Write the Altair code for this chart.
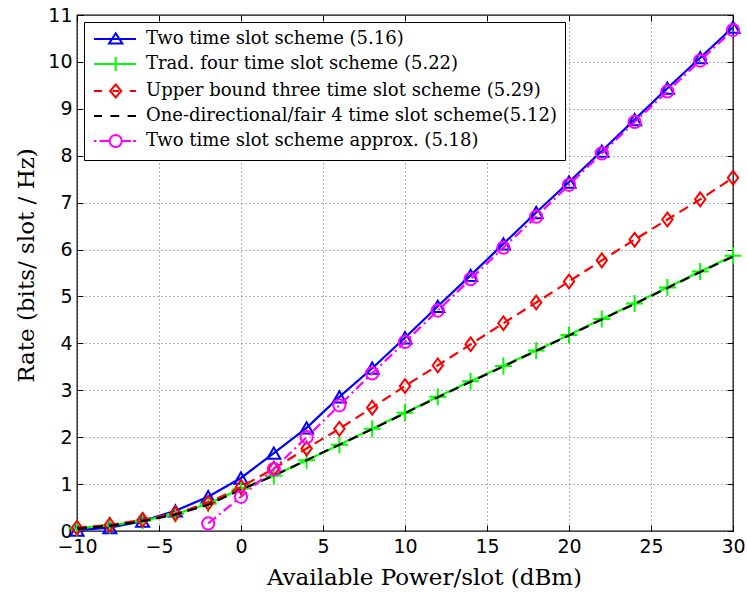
import math
import altair as alt
import pandas as pd

# ---------------- data ----------------
power = [-10, -8, -6, -4, -2, 0, 2, 4, 6, 8, 10, 12, 14, 16, 18, 20, 22, 24, 26, 28, 30]
two_slot = [0.02, 0.07, 0.21, 0.43, 0.73, 1.13, 1.66, 2.20, 2.86, 3.47, 4.12, 4.79,
            5.45, 6.12, 6.79, 7.44, 8.10, 8.77, 9.44, 10.09, 10.74]
trad_four = [0.06, 0.12, 0.22, 0.36, 0.58, 0.90, 1.18, 1.51, 1.84, 2.18, 2.52, 2.86,
             3.19, 3.52, 3.85, 4.18, 4.52, 4.85, 5.19, 5.53, 5.87]
upper_three = [0.07, 0.13, 0.24, 0.37, 0.60, 0.94, 1.33, 1.76, 2.18, 2.63, 3.09, 3.53,
               3.98, 4.43, 4.87, 5.32, 5.77, 6.21, 6.64, 7.07, 7.53]
one_dir = [0.05, 0.11, 0.21, 0.35, 0.56, 0.88, 1.18, 1.51, 1.84, 2.17, 2.51, 2.85,
           3.18, 3.51, 3.84, 4.17, 4.51, 4.84, 5.18, 5.52, 5.85]
approx_power = [-2, 0, 2, 4, 6, 8, 10, 12, 14, 16, 18, 20, 22, 24, 26, 28, 30]
approx = [0.16, 0.73, 1.32, 2.00, 2.68, 3.36, 4.03, 4.70, 5.37, 6.04, 6.70, 7.38,
          8.05, 8.72, 9.37, 10.03, 10.68]

names = [
    "Two time slot scheme (5.16)",
    "Trad. four time slot scheme (5.22)",
    "Upper bound three time slot scheme (5.29)",
    "One-directional/fair 4 time slot scheme(5.12)",
    "Two time slot scheme approx. (5.18)",
]
colors = ["#0000ff", "#00ff00", "#ff0000", "#000000", "#ff00ff"]
x_ticks = [-10, -5, 0, 5, 10, 15, 20, 25, 30]
y_ticks = list(range(0, 12))

series = [
    (names[0], power, two_slot),
    (names[1], power, trad_four),
    (names[2], power, upper_three),
    (names[3], power, one_dir),
    (names[4], approx_power, approx),
]
rows = []
for n, xs_, ys_ in series:
    for xv, yv in zip(xs_, ys_):
        rows.append({"series": n, "power": xv, "rate": yv})
df = pd.DataFrame(rows)

# ---------------- styles ----------------
W, H = 656, 516
SERIF = "DejaVu Serif"
SANS = "DejaVu Sans"
xscale = alt.Scale(domain=[-10, 30], nice=False, zero=False)
yscale = alt.Scale(domain=[0, 11], nice=False, zero=False)

dashes = [None, None, [10, 6], [10, 6], [10, 4, 2, 4]]
PLUS = "M-1,0H1M0,-1V1"
DIAMOND = "M0,-1L0.75,0L0,1L-0.75,0Z"
markers = [("triangle-up", 170), (PLUS, 289), (DIAMOND, 190), (None, 0), ("circle", 150)]

# legend symbol paths (line + marker), unit = 7 px
c = 2.1
circ = "M" + "L".join(
    f"{c + 0.86 * math.cos(2 * math.pi * k / 24):.3f},{0.86 * math.sin(2 * math.pi * k / 24):.3f}"
    for k in range(24)) + "Z"
leg_paths = [
    f"M-1,0H5M{c},-0.8L{c + 0.95},0.65L{c - 0.95},0.65Z",
    f"M-1,0H5M{c},-1V1",
    f"M-1,0H0.15M{c},-0.93L{c + 0.8},0L{c},0.93L{c - 0.8},0ZM{c - 0.45},0H{c + 0.45}M4.1,0H5",
    "M-1,0H0.15M1.35,0H2.6M3.8,0H5",
    "M-1,0H-0.65M-0.2,0H1.24" + circ + "M2.96,0H4.3M4.6,0H5",
]

base = alt.Chart(df)
X_NOAX = alt.X("power:Q", scale=xscale, axis=None)
Y_NOAX = alt.Y("rate:Q", scale=yscale, axis=None)

layers = []

# main axes with labels + dotted grid
layers.append(
    base.mark_point(opacity=0).encode(
        x=alt.X("power:Q", scale=xscale, axis=alt.Axis(
            orient="bottom", values=x_ticks, title="Available Power/slot (dBm)",
            grid=True, gridDash=[1, 3], gridColor="#666666", gridWidth=1,
            ticks=False, domain=False, labelFlush=False, labelOverlap=False,
            labelFont=SANS, labelFontSize=19, labelColor="black", labelPadding=6,
            titleFont=SERIF, titleFontSize=23, titleFontWeight="normal", titleColor="black",
            titleX=347, titleY=53, titleBaseline="alphabetic")),
        y=alt.Y("rate:Q", scale=yscale, axis=alt.Axis(
            orient="left", values=y_ticks, title="Rate (bits/ slot / Hz)",
            grid=True, gridDash=[1, 3], gridColor="#666666", gridWidth=1,
            ticks=False, domain=False, labelFlush=False, labelOverlap=False,
            labelFont=SANS, labelFontSize=19, labelColor="black", labelPadding=5,
            titleFont=SERIF, titleFontSize=23, titleFontWeight="normal", titleColor="black",
            titleAngle=270, titleX=-44, titleY=250, titleAlign="center",
            titleBaseline="alphabetic")),
    )
)

tick_kw = dict(labels=False, domain=False, grid=False, ticks=True, tickSize=6,
               tickColor="black", tickWidth=1, title=None)
# inward ticks on bottom (x) and left (y)
layers.append(
    base.mark_point(opacity=0).encode(
        x=alt.X("power:Q", scale=xscale, axis=alt.Axis(orient="top", offset=-H, values=x_ticks, **tick_kw)),
        y=alt.Y("rate:Q", scale=yscale, axis=alt.Axis(orient="right", offset=-W, values=y_ticks, **tick_kw)),
    )
)
# inward ticks on top (x) and right (y)
layers.append(
    base.mark_point(opacity=0).encode(
        x=alt.X("power:Q", scale=xscale, axis=alt.Axis(orient="bottom", offset=-H, values=x_ticks, **tick_kw)),
        y=alt.Y("rate:Q", scale=yscale, axis=alt.Axis(orient="left", offset=-W, values=y_ticks, **tick_kw)),
    )
)

# data series
for i, n in enumerate(names):
    sub = base.transform_filter(alt.datum.series == n)
    line_kw = dict(color=colors[i], strokeWidth=2.2)
    if dashes[i]:
        line_kw["strokeDash"] = dashes[i]
    layers.append(sub.mark_line(**line_kw).encode(x=X_NOAX, y=Y_NOAX))
    shp, sz = markers[i]
    if shp:
        layers.append(
            sub.mark_point(shape=shp, size=sz, filled=False, color=colors[i],
                           strokeWidth=2, opacity=1).encode(x=X_NOAX, y=Y_NOAX)
        )

# legend (drawn from scales with explicit domains)
leg = alt.Legend(
    title=None, orient="none", legendX=7, legendY=7,
    fillColor="white", strokeColor="black", padding=8, cornerRadius=0,
    labelFont=SERIF, labelFontSize=18, labelColor="black", labelLimit=0,
    labelOffset=36, rowPadding=5, symbolSize=196, symbolStrokeWidth=2,
)
layers.append(
    base.transform_calculate(label="datum.series").transform_filter("false")
    .mark_point(filled=False, strokeWidth=2, opacity=1)
    .encode(
        x=X_NOAX, y=Y_NOAX,
        color=alt.Color("label:N", scale=alt.Scale(domain=names, range=colors), legend=leg),
        shape=alt.Shape("label:N", scale=alt.Scale(domain=names, range=leg_paths), legend=leg),
    )
)

chart = (
    alt.layer(*layers)
    .resolve_axis(x="independent", y="independent")
    .properties(width=W, height=H, autosize=alt.AutoSizeParams(type="none"),
                padding={"left": 77, "top": 15, "right": 14, "bottom": 62},
                background="white")
    .configure_view(stroke="black", strokeWidth=1.3)
)

chart.save("out.html", embed_options={"renderer": "svg", "actions": False})
